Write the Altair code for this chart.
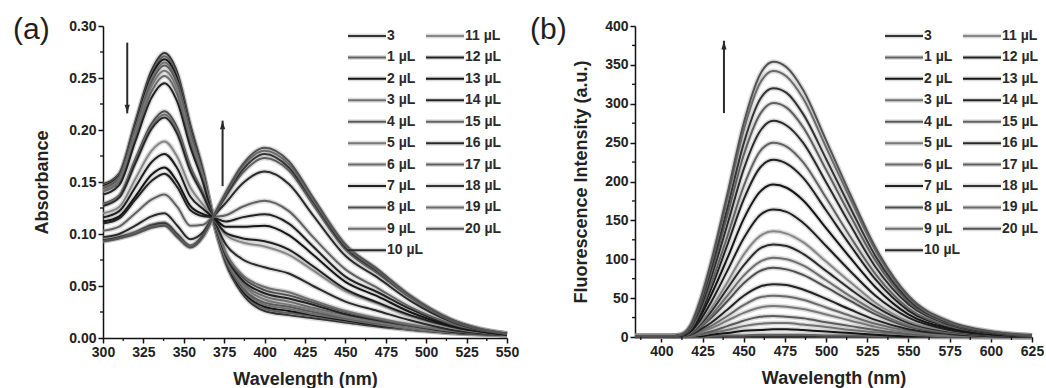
import altair as alt
import pandas as pd

# ---------------- data ----------------
SERIES = ["3"] + [f"{i} µL" for i in range(1, 21)]
COLORS = ["#333333", "#606060", "#151515", "#707070", "#5a5a5a", "#787878",
          "#6a6a6a", "#222222", "#4e4e4e", "#6e6e6e", "#2a2a2a", "#868686",
          "#1e1e1e", "#151515", "#222222", "#626262", "#2a2a2a", "#5e5e5e",
          "#333333", "#6a6a6a", "#525252"]

# (a) UV-vis absorbance
ABS_WL = [300, 310, 320, 330, 338, 346, 354, 362, 368, 376, 386, 400, 415, 430, 450, 470, 490, 515, 550]
ABS = [
    [.148, .158, .208, .257, .274, .255, .205, .160, .116, .072, .043, .026, .022, .019, .015, .011, .008, .005, .003],
    [.147, .157, .206, .254, .271, .252, .203, .159, .116, .073, .045, .028, .024, .021, .016, .012, .008, .005, .003],
    [.146, .156, .204, .252, .268, .249, .201, .158, .116, .074, .046, .030, .026, .022, .017, .012, .009, .005, .003],
    [.145, .155, .202, .249, .265, .246, .199, .157, .116, .075, .048, .032, .028, .023, .018, .013, .009, .005, .003],
    [.144, .154, .200, .246, .262, .244, .197, .156, .116, .075, .049, .034, .030, .025, .019, .014, .010, .006, .003],
    [.142, .152, .197, .242, .257, .239, .193, .154, .116, .077, .052, .037, .032, .027, .020, .015, .010, .006, .003],
    [.141, .150, .194, .237, .252, .234, .189, .152, .116, .078, .054, .040, .035, .029, .022, .016, .011, .006, .003],
    [.138, .147, .189, .231, .245, .227, .184, .149, .116, .079, .056, .043, .038, .032, .023, .017, .012, .006, .003],
    [.129, .137, .172, .206, .218, .202, .165, .139, .116, .081, .059, .046, .041, .034, .025, .018, .012, .007, .003],
    [.128, .136, .170, .203, .215, .199, .163, .138, .116, .082, .061, .049, .044, .036, .026, .019, .013, .007, .003],
    [.127, .135, .168, .201, .212, .196, .161, .137, .116, .090, .076, .068, .062, .050, .035, .026, .017, .008, .003],
    [.120, .126, .153, .180, .189, .174, .145, .128, .116, .099, .092, .088, .080, .065, .045, .033, .021, .010, .003],
    [.116, .122, .145, .169, .177, .163, .136, .124, .116, .101, .096, .093, .085, .069, .047, .034, .022, .011, .003],
    [.112, .117, .136, .157, .164, .150, .127, .119, .116, .107, .107, .108, .099, .080, .054, .040, .025, .012, .003],
    [.110, .115, .133, .151, .158, .145, .123, .117, .116, .112, .116, .119, .110, .088, .059, .044, .028, .013, .004],
    [.103, .107, .120, .133, .138, .126, .108, .109, .116, .118, .126, .132, .122, .097, .066, .048, .030, .014, .004],
    [.097, .100, .108, .117, .120, .108, .095, .102, .116, .130, .148, .160, .148, .118, .079, .058, .036, .016, .004],
    [.094, .097, .102, .109, .111, .100, .089, .099, .116, .136, .158, .173, .161, .128, .085, .062, .039, .017, .004],
    [.094, .097, .101, .108, .110, .099, .088, .099, .116, .137, .161, .177, .164, .131, .087, .064, .040, .018, .004],
    [.093, .096, .101, .107, .109, .098, .088, .098, .116, .139, .164, .180, .167, .133, .089, .065, .040, .018, .004],
    [.093, .096, .100, .106, .108, .097, .087, .098, .116, .140, .166, .183, .170, .135, .090, .066, .041, .018, .004],
]

# (b) fluorescence
FL_WL = [384, 405, 412, 418, 424, 430, 440, 450, 460, 468, 476, 486, 500, 515, 530, 550, 575, 600, 625]
FL = [
    [1, 1, 1, 1, 1, 1, 1, 1, 1, 1, 1, 1, 1, 1, 1, 0, 0, 0, 0],
    [1, 1, 1, 1, 1, 1, 2, 2, 3, 3, 3, 3, 2, 2, 1, 1, 0, 0, 0],
    [1, 1, 1, 1, 1, 3, 5, 8, 9, 10, 10, 9, 7, 5, 3, 1, 1, 0, 0],
    [1, 1, 1, 1, 3, 5, 9, 14, 17, 18, 18, 16, 13, 9, 6, 3, 1, 0, 0],
    [1, 1, 1, 1, 4, 7, 14, 21, 26, 27, 26, 24, 19, 14, 9, 4, 2, 1, 0],
    [1, 1, 1, 2, 6, 11, 21, 31, 38, 40, 39, 36, 29, 21, 13, 6, 2, 1, 0],
    [1, 1, 1, 2, 8, 14, 27, 41, 51, 53, 52, 48, 38, 27, 17, 8, 3, 1, 0],
    [1, 1, 1, 3, 10, 18, 35, 53, 65, 68, 67, 61, 49, 35, 22, 10, 4, 1, 0],
    [1, 1, 1, 4, 13, 24, 46, 69, 85, 89, 87, 80, 64, 46, 29, 13, 5, 2, 1],
    [1, 1, 1, 5, 14, 27, 53, 79, 97, 102, 100, 92, 73, 52, 33, 15, 6, 2, 1],
    [1, 1, 1, 5, 17, 32, 62, 92, 114, 119, 117, 107, 85, 61, 39, 18, 7, 2, 1],
    [1, 1, 1, 6, 19, 36, 70, 106, 130, 136, 133, 122, 97, 70, 44, 20, 8, 3, 1],
    [1, 1, 1, 7, 23, 44, 85, 127, 157, 164, 161, 147, 117, 84, 53, 25, 9, 3, 1],
    [1, 1, 2, 9, 28, 53, 101, 152, 187, 196, 192, 176, 140, 101, 64, 29, 11, 4, 1],
    [1, 1, 2, 10, 32, 61, 118, 177, 218, 228, 223, 205, 163, 117, 74, 34, 13, 5, 1],
    [1, 1, 2, 11, 35, 67, 129, 194, 239, 250, 245, 225, 179, 128, 81, 37, 14, 5, 1],
    [1, 1, 2, 13, 39, 75, 144, 216, 265, 278, 272, 250, 199, 143, 90, 42, 16, 5, 2],
    [1, 1, 3, 14, 43, 81, 156, 234, 287, 301, 295, 270, 215, 155, 98, 45, 17, 6, 2],
    [1, 1, 3, 14, 45, 86, 165, 249, 306, 320, 314, 287, 229, 165, 104, 48, 18, 6, 2],
    [1, 1, 3, 15, 48, 92, 177, 266, 327, 342, 335, 307, 244, 176, 111, 51, 19, 7, 2],
    [1, 1, 3, 16, 50, 95, 183, 275, 338, 354, 347, 318, 253, 182, 115, 53, 20, 7, 2],
]

# axis ticks
A_XTICKS = [300, 325, 350, 375, 400, 425, 450, 475, 500, 525, 550]
A_XMINOR = [312.5, 337.5, 362.5, 387.5, 412.5, 437.5, 462.5, 487.5, 512.5, 537.5]
A_YTICKS = [0.00, 0.05, 0.10, 0.15, 0.20, 0.25, 0.30]
A_YMINOR = [0.025, 0.075, 0.125, 0.175, 0.225, 0.275]
B_XTICKS = [400, 425, 450, 475, 500, 525, 550, 575, 600, 625]
B_XMINOR = [387.5, 412.5, 437.5, 462.5, 487.5, 512.5, 537.5, 562.5, 587.5, 612.5]
B_YTICKS = [0, 50, 100, 150, 200, 250, 300, 350, 400]
B_YMINOR = [25, 75, 125, 175, 225, 275, 325, 375]

# arrows (x, start, end, direction)
A_ARROW_X = [315, 374]
A_ARROW_Y0 = [0.284, 0.146]
A_ARROW_Y1 = [0.216, 0.209]
A_ARROW_DIR = ["down", "up"]
B_ARROW_X = [438]
B_ARROW_Y0 = [288]
B_ARROW_Y1 = [381]
B_ARROW_DIR = ["up"]

FONT = "Liberation Sans"
DOWN_HEAD = "M0,0L-0.3,-1L0.3,-1Z"
UP_HEAD = "M0,0L-0.3,1L0.3,1Z"


def long_df(wls, table):
    rows = []
    for k, name in enumerate(SERIES):
        for w, v in zip(wls, table[k]):
            rows.append({"series": name, "wl": w, "v": v})
    return pd.DataFrame(rows)


def legend_df(col_px, line_px, xdom, ydom, w, h):
    # legend laid out in pixels inside the plot area, converted to data units
    def px_to_x(p):
        return xdom[0] + p / w * (xdom[1] - xdom[0])

    def py_to_y(p):
        return ydom[1] - p / h * (ydom[1] - ydom[0])

    rows = []
    for k, name in enumerate(SERIES):
        col, row = divmod(k, 11)
        x0 = col_px[col]
        py = 10 + 21.43 * row
        rows.append({"series": name, "x0": px_to_x(x0), "x1": px_to_x(x0 + line_px),
                     "tx": px_to_x(x0 + line_px + 1), "y": py_to_y(py)})
    return pd.DataFrame(rows)


color_enc = alt.Color("series:N", scale=alt.Scale(domain=SERIES, range=COLORS), legend=None)


def panel(df, xdom, xticks, xminor, ydom, yticks, yminor, yfmt, ytitle, ytitle_pad,
          w, h, tag, tag_x, ax, ay0, ay1, adir, leg_cols):
    axis_common = dict(
        labelFont=FONT, labelFontSize=14, labelFontWeight="bold", labelColor="#222",
        titleFont=FONT, titleFontSize=18, titleFontWeight="bold", titleColor="#222",
        tickSize=5, tickWidth=1.5, tickColor="#111", domainWidth=1.5, domainColor="#111",
        grid=False, labelPadding=2,
    )
    xs = alt.Scale(domain=xdom, nice=False, zero=False)
    ys = alt.Scale(domain=ydom, nice=False, zero=False)
    x_axis = alt.Axis(values=xticks, title="Wavelength (nm)", format="d", labelFlush=False,
                      titlePadding=11, **axis_common)
    y_axis = alt.Axis(values=yticks, title=ytitle, format=yfmt, titlePadding=ytitle_pad,
                      **axis_common)

    # every layer carries the same axis definition so that they merge into one axis
    X = lambda f: alt.X(f, scale=xs, axis=x_axis)
    Y = lambda f: alt.Y(f, scale=ys, axis=y_axis)

    halo = alt.Chart(df).mark_line(interpolate="monotone", strokeWidth=5,
                                   color="#8a8a8a", opacity=0.3).encode(
        x=X("wl:Q"), y=Y("v:Q"), detail="series:N")
    lines = alt.Chart(df).mark_line(interpolate="monotone", strokeWidth=2).encode(
        x=X("wl:Q"), y=Y("v:Q"), color=color_enc)

    mx = alt.Chart(pd.DataFrame({"m": xminor})).mark_rule(color="#111", strokeWidth=1.3).encode(
        x=X("m:Q"), y=alt.value(h), y2=alt.value(h + 3))
    my = alt.Chart(pd.DataFrame({"m": yminor})).mark_rule(color="#111", strokeWidth=1.3).encode(
        y=Y("m:Q"), x=alt.value(0), x2=alt.value(-3))

    adf = pd.DataFrame({"x": ax, "y0": ay0, "y1": ay1, "dir": adir})
    arrow_rule = alt.Chart(adf).mark_rule(color="#2a2a2a", strokeWidth=2).encode(
        x=X("x:Q"), y=Y("y0:Q"), y2="y1:Q")
    arrow_head = alt.Chart(adf).mark_point(filled=True, size=300, color="#2a2a2a", opacity=1).encode(
        x=X("x:Q"), y=Y("y1:Q"),
        shape=alt.Shape("dir:N", scale=alt.Scale(domain=["down", "up"], range=[DOWN_HEAD, UP_HEAD]),
                        legend=None))

    tag_text = alt.Chart(pd.DataFrame({"t": [tag]})).mark_text(
        font=FONT, fontSize=30, align="left", baseline="alphabetic", color="#1e1e1e").encode(
        text="t:N", x=alt.value(tag_x), y=alt.value(13))

    ldf = legend_df(leg_cols, 38, xdom, ydom, w, h)
    leg_halo = alt.Chart(ldf).mark_rule(strokeWidth=5, color="#8a8a8a", opacity=0.3).encode(
        x=X("x0:Q"), x2="x1:Q", y=Y("y:Q"))
    leg_rule = alt.Chart(ldf).mark_rule(strokeWidth=2).encode(
        x=X("x0:Q"), x2="x1:Q", y=Y("y:Q"), color=color_enc)
    leg_text = alt.Chart(ldf).mark_text(font=FONT, fontSize=14, fontWeight="bold", align="left",
                                        baseline="middle", color="#2a2a2a").encode(
        x=X("tx:Q"), y=Y("y:Q"), text="series:N")

    return alt.layer(halo, lines, mx, my, arrow_rule, arrow_head, tag_text,
                     leg_halo, leg_rule, leg_text).properties(width=w, height=h)


pa = panel(long_df(ABS_WL, ABS), [300, 550], A_XTICKS, A_XMINOR, [0, 0.30], A_YTICKS, A_YMINOR,
           ".2f", "Absorbance", 17, 404, 312, "(a)", -90,
           A_ARROW_X, A_ARROW_Y0, A_ARROW_Y1, A_ARROW_DIR, [245, 323])
pb = panel(long_df(FL_WL, FL), [384, 625], B_XTICKS, B_XMINOR, [0, 400], B_YTICKS, B_YMINOR,
           "d", "Fluorescence Intensity (a.u.)", 14, 397, 311, "(b)", -105,
           B_ARROW_X, B_ARROW_Y0, B_ARROW_Y1, B_ARROW_DIR, [250, 328])

chart = alt.hconcat(pa, pb, spacing=11).properties(
    padding={"left": 13, "top": 15, "right": 0, "bottom": 0},
    background="white",
).configure_view(stroke=None)

chart.save("out.html", embed_options={"renderer": "svg", "actions": False})
